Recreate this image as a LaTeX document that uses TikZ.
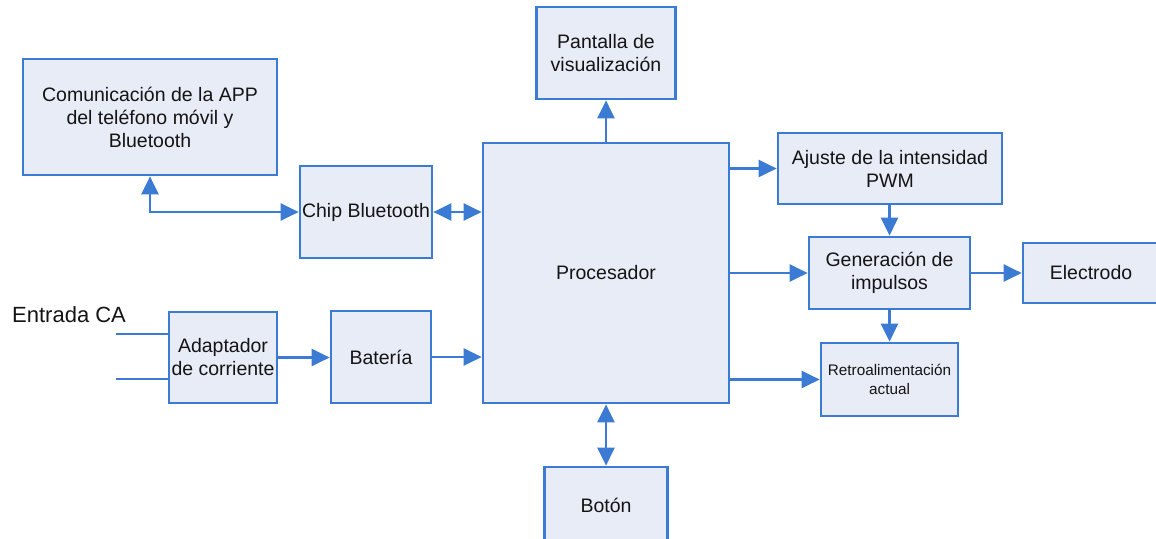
\documentclass[tikz,border=0pt]{standalone}
\usepackage{fontspec}
\setmainfont{Liberation Sans}
\usetikzlibrary{arrows.meta}
\definecolor{linkblue}{HTML}{3B7BD4}
\definecolor{boxfill}{HTML}{E8ECF7}
\begin{document}
\begin{tikzpicture}[x=1pt,y=-1pt,
  box/.style={draw=linkblue, fill=boxfill, line width=2.7pt, inner sep=0pt,
    align=center, text=black!92, font=\fontsize{19.5}{23}\selectfont},
  small/.style={font=\fontsize{15.3}{18.5}\selectfont},
  wire/.style={draw=linkblue, line width=2.7pt},
  link/.style={wire, -{Triangle[length=18pt,width=17pt]}},
  both/.style={wire, {Triangle[length=18pt,width=17pt]}-{Triangle[length=18pt,width=17pt]}}]
\useasboundingbox (0,0) rectangle (1156,538);
\clip (0,0) rectangle (1156,538);

% blocks
\node[box, minimum width=254pt, minimum height=116pt] (com) at (150,117)
  {Comunicación de la APP\\del teléfono móvil y\\Bluetooth};
\node[box, minimum width=132pt, minimum height=92pt] (chip) at (366,212) {Chip Bluetooth};
\node[box, minimum width=246pt, minimum height=260pt] (proc) at (606,273) {Procesador};
\node[box, minimum width=139pt, minimum height=92pt] (pant) at (606,53) {Pantalla de\\visualización};
\node[box, minimum width=123pt, minimum height=76pt] (boton) at (606,505) {Botón};
\node[box, minimum width=108pt, minimum height=91pt] (adapt) at (223,357.5) {Adaptador\\de corriente};
\node[box, minimum width=100pt, minimum height=92pt] (bat) at (381,357) {Batería};
\node[box, minimum width=224pt, minimum height=71pt] (ajuste) at (890,168.5) {Ajuste de la intensidad\\PWM};
\node[box, minimum width=161pt, minimum height=72pt] (gen) at (889.5,273) {Generación de\\impulsos};
\node[box, minimum width=136pt, minimum height=60pt] (elec) at (1091,273) {Electrodo};
\node[box, small, minimum width=137pt, minimum height=73pt] (retro) at (889.5,379.5) {Retroalimentación\\actual};

% mains input
\node[anchor=base west, inner sep=0pt, text=black!92, font=\fontsize{22}{26}\selectfont] (ca) at (12,322) {Entrada CA};
\coordinate (in1) at (116,334);
\coordinate (in2) at (116,379);
\draw[wire] (in1) -- (in1 -| adapt.west);
\draw[wire] (in2) -- (in2 -| adapt.west);

% connections
\draw[both] (chip.west) -| (com.south);
\draw[both] (chip.east) -- (chip.east -| proc.west);
\draw[link] (proc.north) -- (pant.south);
\draw[both] (proc.south) -- (boton.north);
\draw[link] (adapt.east) -- (adapt.east -| bat.west);
\draw[link] (bat.east) -- (bat.east -| proc.west);
\draw[link] (proc.east |- ajuste.west) -- (ajuste.west);
\draw[link] (proc.east |- gen.west) -- (gen.west);
\draw[link] (gen.east) -- (gen.east -| elec.west);
\draw[link] (proc.east |- retro.west) -- (retro.west);
\draw[link] (ajuste.south -| gen.north) -- (gen.north);
\draw[link] (gen.south) -- (gen.south |- retro.north);
\end{tikzpicture}
\end{document}
